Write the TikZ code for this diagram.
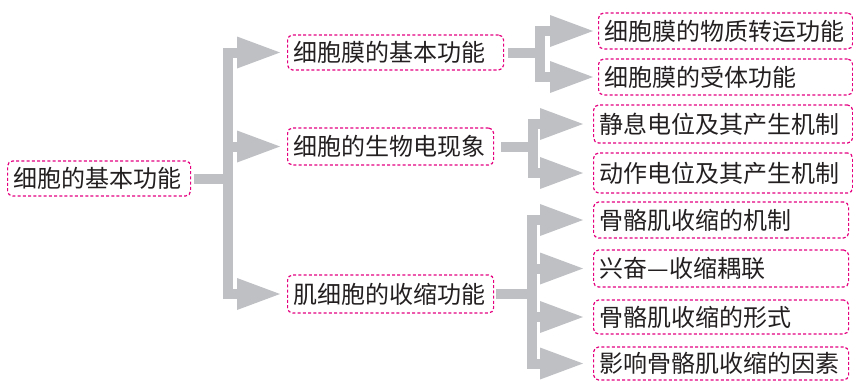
\documentclass[tikz,border=0pt]{standalone}
\usepackage{fontspec}
\newfontfamily\cjk{Noto Sans CJK SC}
\usetikzlibrary{calc}
\definecolor{boxpink}{RGB}{228,0,127}
\definecolor{arrowgray}{RGB}{190,192,196}
\definecolor{txt}{RGB}{35,31,32}
\tikzset{
  box/.style={draw=boxpink, line width=1.2pt, dash pattern=on 3pt off 2.2pt,
    rounded corners=5pt, anchor=west, inner xsep=6pt, inner ysep=0pt,
    align=left, text=txt, font=\cjk\fontsize{24}{26}\selectfont},
  shaft/.style={draw=arrowgray, line width=10pt, line join=miter},
  head/.style={fill=arrowgray}
}
\begin{document}
\begin{tikzpicture}[x=1pt,y=-1pt]
\useasboundingbox (0,0) rectangle (853,381);
% nodes
\node[box, minimum width=183pt, minimum height=35pt, text width=171pt] (root) at (7,178.5) {细胞的基本功能};
\node[box, minimum width=216pt, minimum height=35pt, text width=204pt] (a1) at (287,52.5) {细胞膜的基本功能};
\node[box, minimum width=206pt, minimum height=37pt, text width=194pt] (a2) at (287,146.5) {细胞的生物电现象};
\node[box, minimum width=206pt, minimum height=38pt, text width=194pt] (a3) at (287,294) {肌细胞的收缩功能};
\node[box, minimum width=254pt, minimum height=36pt, text width=242pt] (b1) at (598,31) {细胞膜的物质转运功能};
\node[box, minimum width=254pt, minimum height=36pt, text width=242pt] (b2) at (598,77) {细胞膜的受体功能};
\node[box, minimum width=259pt, minimum height=38pt, text width=247pt] (c1) at (593,124) {静息电位及其产生机制};
\node[box, minimum width=259pt, minimum height=40pt, text width=247pt] (c2) at (593,173) {动作电位及其产生机制};
\node[box, minimum width=255pt, minimum height=36pt, text width=243pt] (d1) at (593,220) {骨骼肌收缩的机制};
\node[box, minimum width=255pt, minimum height=37pt, text width=243pt] (d2) at (593,268.5) {兴奋—收缩耦联};
\node[box, minimum width=255pt, minimum height=34pt, text width=243pt] (d3) at (593,317) {骨骼肌收缩的形式};
\node[box, minimum width=255pt, minimum height=33pt, text width=243pt] (d4) at (593,363.5) {影响骨骼肌收缩的因素};
% group coordinates: bar x, head base x, tip x
\coordinate (v0) at (228,180); \coordinate (h0) at (239,0); \coordinate (t0) at (280,0);
\coordinate (v1) at (540,52);  \coordinate (h1) at (552,0); \coordinate (t1) at (593,0);
\coordinate (v2) at (533,148); \coordinate (h2) at (542,0); \coordinate (t2) at (583,0);
\coordinate (v3) at (532,295); \coordinate (h3) at (542,0); \coordinate (t3) at (583,0);
% group 0
\draw[shaft] ([xshift=3pt]root.east) -- (root.east -| v0);
\draw[shaft] (a1.west -| h0) -| (v0) |- (a3.west -| h0);
\draw[shaft] (v0 |- a2.west) -- (a2.west -| h0);
\foreach \n in {a1,a2,a3}
  \fill[head] (\n.west -| t0) -- ++(-43,16) -- ++(0,-32) -- cycle;
% group 1
\draw[shaft] ([xshift=4pt]a1.east) -- (a1.east -| v1);
\draw[shaft] (b1.west -| h1) -| (v1) |- (b2.west -| h1);
\foreach \n in {b1,b2}
  \fill[head] (\n.west -| t1) -- ++(-43,16) -- ++(0,-32) -- cycle;
% group 2
\draw[shaft] ([xshift=7pt]a2.east) -- (a2.east -| v2);
\draw[shaft] (c1.west -| h2) -| (v2) |- (c2.west -| h2);
\foreach \n in {c1,c2}
  \fill[head] (\n.west -| t2) -- ++(-43,16) -- ++(0,-32) -- cycle;
% group 3
\draw[shaft] ([xshift=2pt]a3.east) -- (a3.east -| v3);
\draw[shaft] (d1.west -| h3) -| (v3) |- (d4.west -| h3);
\draw[shaft] (v3 |- d2.west) -- (d2.west -| h3);
\draw[shaft] (v3 |- d3.west) -- (d3.west -| h3);
\foreach \n in {d1,d2,d3,d4}
  \fill[head] (\n.west -| t3) -- ++(-43,16) -- ++(0,-32) -- cycle;
\end{tikzpicture}
\end{document}
